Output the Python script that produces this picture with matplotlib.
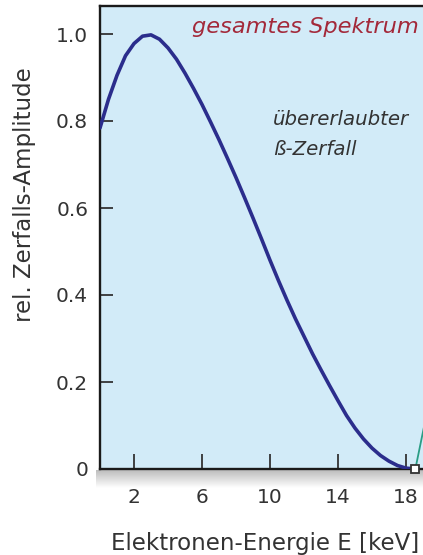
import numpy as np
import matplotlib
matplotlib.use("Agg")
import matplotlib.pyplot as plt

plt.rcParams['font.family'] = ['DejaVu Sans']

# Spektrum
energie = [0.0, 0.5, 1.0, 1.5, 2.0, 2.5, 3.0, 3.5, 4.0, 4.5, 5.0, 5.5, 6.0,
           6.5, 7.0, 7.5, 8.0, 8.5, 9.0, 9.5, 10.0, 10.5, 11.0, 11.5, 12.0,
           12.5, 13.0, 13.5, 14.0, 14.5, 15.0, 15.5, 16.0, 16.5, 17.0, 17.5,
           18.0, 18.55]
amplitude = [0.784, 0.850, 0.905, 0.950, 0.978, 0.995, 0.998, 0.988, 0.968,
             0.942, 0.910, 0.875, 0.838, 0.798, 0.757, 0.714, 0.670, 0.624,
             0.577, 0.529, 0.480, 0.433, 0.388, 0.345, 0.305, 0.265, 0.228,
             0.192, 0.157, 0.123, 0.094, 0.069, 0.048, 0.031, 0.018, 0.008,
             0.002, 0.0]

# Verbindungslinie zum Endpunkt
linie_x = [18.55, 19.6]
linie_y = [0.0, 0.2]
endpunkt = (18.55, 0.0)

x_ticks = [2, 6, 10, 14, 18]
y_ticks = [0, 0.2, 0.4, 0.6, 0.8, 1.0]
y_labels = ['0', '0.2', '0.4', '0.6', '0.8', '1.0']

W, H = 423, 555
fig = plt.figure(figsize=(W/100, H/100), dpi=100)

def fx(px): return px / W
def fy(py): return 1 - py / H

# Schatten unter der Achse
sh = fig.add_axes([fx(96), fy(488), fx(W) - fx(96), fy(470) - fy(488)])
grad = np.linspace(0.74, 1.0, 50).reshape(-1, 1)
sh.imshow(np.dstack([grad, grad, grad]), aspect='auto', extent=[0, 1, 0, 1])
sh.axis('off')

ax = fig.add_axes([fx(100), fy(469), fx(425) - fx(100), fy(6) - fy(469)])
ax.set_facecolor('#d2ebf8')

ax.plot(energie, amplitude, color='#2b2d8c', lw=2.6, solid_capstyle='round', zorder=3)
ax.plot(linie_x, linie_y, color='#2a9d85', lw=1.3, zorder=2)
ax.plot([endpunkt[0]], [endpunkt[1]], marker='s', ms=6, mfc='white',
        mec='#333333', mew=1.3, zorder=4, clip_on=False)

ax.set_xlim(0, 325/17)
ax.set_ylim(0, 1 + 28/435)

ax.set_xticks(x_ticks)
ax.set_xticklabels([str(t) for t in x_ticks])
ax.set_yticks(y_ticks)
ax.set_yticklabels(y_labels)
ax.tick_params(axis='x', direction='in', length=11, width=1.3, color='#333333',
               labelsize=14.5, labelcolor='#333333', pad=14)
ax.tick_params(axis='y', direction='in', length=9.5, width=1.3, color='#333333',
               labelsize=14.5, labelcolor='#333333', pad=8.5)

for s in ax.spines.values():
    s.set_linewidth(1.7)
    s.set_color('#1a1a1a')

fig.text(fx(25), fy(195), 'rel. Zerfalls-Amplitude', rotation=90, ha='center',
         va='center', fontsize=16.5, color='#333333')
fig.text(fx(111), fy(550), 'Elektronen-Energie E [keV]', ha='left', va='baseline',
         fontsize=16.5, color='#333333')

fig.text(fx(192), fy(33), 'gesamtes Spektrum', ha='left', va='baseline',
         fontsize=16.2, style='italic', color='#a3293a')
fig.text(fx(273), fy(125), 'übererlaubter', ha='left', va='baseline',
         fontsize=14.2, style='italic', color='#333333')
fig.text(fx(273), fy(155), 'ß-Zerfall', ha='left', va='baseline',
         fontsize=14.2, style='italic', color='#333333')

fig.savefig('out.png', dpi=100, facecolor='white')
